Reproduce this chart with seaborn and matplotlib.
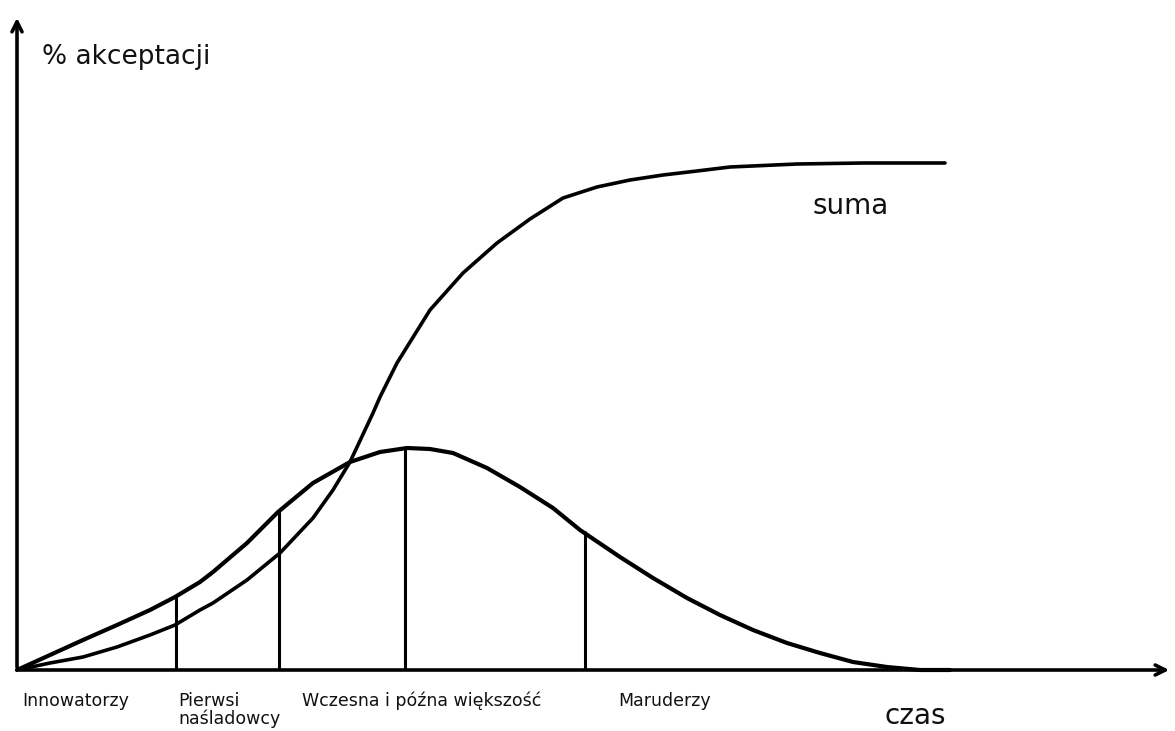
import numpy as np
import pandas as pd
import matplotlib.pyplot as plt
import seaborn as sns

# Bell curve (share of adopters per moment)
bell_t = [0, 33, 66, 100, 133, 158, 183, 196, 230, 261, 296, 333, 363, 390, 413, 436,
          470, 503, 536, 563, 603, 636, 670, 703, 736, 770, 803, 836, 870, 903, 933]
bell_v = [0, 15, 30, 45, 60, 73, 88, 98, 127, 158, 187, 208, 218, 222, 221, 217,
          202, 183, 162, 140, 113, 92, 72, 55, 40, 27, 17, 8, 3, 0, 0]

# Cumulative curve ("suma")
sum_t = [0, 33, 66, 100, 133, 158, 183, 196, 230, 263, 296, 316, 333, 356, 363, 380,
         413, 446, 480, 513, 546, 580, 613, 646, 680, 713, 780, 846, 928]
sum_v = [0, 7, 13, 23, 35, 45, 60, 67, 90, 117, 152, 180, 208, 257, 273, 307,
         360, 397, 427, 451, 472, 483, 490, 495, 499, 503, 506, 507, 507]

# Segment borders and their heights on the bell curve
split_t = [159, 262, 388, 568]
split_v = [73, 160, 221, 139]

groups = ["Innowatorzy", "Pierwsi\nnaśladowcy", "Wczesna i późna większość", "Maruderzy"]

sns.set_style("white")
plt.rcParams["font.family"] = ["DejaVu Sans"]

fig = plt.figure(figsize=(11.75, 7.31), dpi=100)
ax = fig.add_axes([0, 0, 1, 1])

bell = pd.DataFrame({"czas": bell_t, "akceptacja": bell_v})
suma = pd.DataFrame({"czas": sum_t, "akceptacja": sum_v})
sns.lineplot(data=bell, x="czas", y="akceptacja", color="black", linewidth=3.0,
             solid_joinstyle="round", ax=ax)
sns.lineplot(data=suma, x="czas", y="akceptacja", color="black", linewidth=2.6,
             solid_joinstyle="round", ax=ax)

ax.vlines(split_t, 0, split_v, color="black", linewidth=2.2)

# axes with arrows
ax.annotate("", xy=(0, 655), xytext=(0, 0),
            arrowprops=dict(arrowstyle="->", color="black", lw=2.6, mutation_scale=18))
ax.annotate("", xy=(1155, 0), xytext=(0, 0),
            arrowprops=dict(arrowstyle="->", color="black", lw=2.6, mutation_scale=18))

ax.set_xlim(-17, 1158)
ax.set_ylim(-61, 670)
ax.axis("off")

W, H = 1175, 731
fig.text(42 / W, 1 - 57 / H, "% akceptacji", fontsize=19, va="center", ha="left", color="#111111")
fig.text(812 / W, 1 - 206 / H, "suma", fontsize=20, va="center", ha="left", color="#111111")
fig.text(885 / W, 1 - 716 / H, "czas", fontsize=20, va="center", ha="left", color="#111111")

label_x = [22, 178, 302, 618]
for lx, g in zip(label_x, groups):
    fig.text(lx / W, 1 - 692 / H, g, fontsize=12.5, va="top", ha="left",
             linespacing=1.0, color="#111111")

fig.savefig("out.png", dpi=100)
